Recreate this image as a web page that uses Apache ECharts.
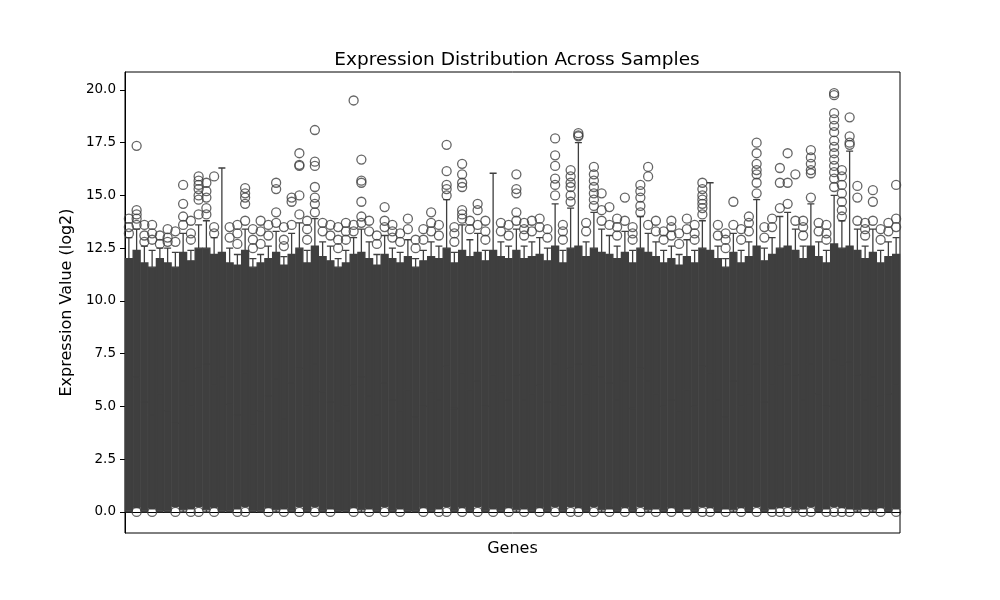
<!DOCTYPE html>
<html>
<head>
<meta charset="utf-8">
<script src="https://cdn.jsdelivr.net/npm/echarts@6/dist/echarts.min.js"></script>
<style>
  html, body { margin: 0; padding: 0; background: #fff; }
  #chart { width: 1000px; height: 600px; }
</style>
</head>
<body>
<div id="chart"></div>
<script>
// whisker low / q1 / median / q3 / whisker high, one entry per gene
var lo = [0, 0.2, 0, 0.15, 0, 0, 0.25, 0, 0.15, 0.25,
    0, 0.2, 0, 0, 0.15, 0.25, 0, 0, 0.2, 0,
    0.15, 0, 0.25, 0, 0.25, 0, 0.15, 0, 0, 0.2,
    0, 0.15, 0, 0.25, 0, 0.15, 0, 0, 0.2, 0,
    0.15, 0.25, 0, 0.2, 0, 0.25, 0, 0.15, 0, 0.2,
    0, 0.15, 0, 0.2, 0, 0.25, 0, 0.25, 0.2, 0,
    0.25, 0, 0.15, 0, 0.2, 0, 0.25, 0, 0.15, 0,
    0.2, 0, 0.15, 0, 0.25, 0.2, 0, 0.15, 0, 0.2,
    0, 0.25, 0, 0.15, 0.2, 0.25, 0, 0.15, 0.25, 0,
    0.15, 0.25, 0.2, 0.15, 0, 0.15, 0, 0.2, 0, 0.15]
var q1 = [0.05, 0.25, 0.05, 0.2, 0.05, 0.05, 0.3, 0.1, 0.2, 0.3,
    0.1, 0.25, 0.05, 0.05, 0.2, 0.3, 0.05, 0.05, 0.25, 0.1,
    0.2, 0.05, 0.3, 0.05, 0.3, 0.05, 0.2, 0.05, 0.05, 0.25,
    0.1, 0.2, 0.05, 0.3, 0.05, 0.2, 0.05, 0.05, 0.25, 0.05,
    0.2, 0.3, 0.05, 0.25, 0.05, 0.3, 0.05, 0.2, 0.05, 0.25,
    0.1, 0.2, 0.05, 0.25, 0.05, 0.3, 0.05, 0.3, 0.25, 0.05,
    0.3, 0.1, 0.2, 0.05, 0.25, 0.05, 0.3, 0.1, 0.2, 0.05,
    0.25, 0.05, 0.2, 0.05, 0.3, 0.25, 0.05, 0.2, 0.1, 0.25,
    0.05, 0.3, 0.05, 0.2, 0.25, 0.3, 0.1, 0.2, 0.3, 0.05,
    0.2, 0.3, 0.25, 0.2, 0.1, 0.2, 0.1, 0.25, 0.05, 0.2]
var med = [5.8, 6.4, 5.2, 4.6, 5.6, 4.8, 4.2, 6.2, 5.0, 6.8,
    7.0, 6.0, 6.4, 5.1, 4.6, 6.6, 4.1, 4.8, 5.5, 6.3,
    4.4, 6.1, 6.8, 5.0, 7.0, 5.7, 5.2, 4.3, 5.0, 6.0,
    6.4, 5.5, 4.6, 6.1, 5.3, 4.8, 5.8, 4.5, 5.0, 5.7,
    5.3, 6.9, 4.9, 6.6, 5.8, 6.2, 5.0, 6.5, 5.7, 5.3,
    6.5, 5.3, 5.6, 6.0, 5.2, 7.0, 5.0, 6.8, 7.0, 5.6,
    6.9, 6.4, 6.1, 5.3, 6.2, 4.9, 6.8, 6.2, 5.6, 5.0,
    5.3, 4.8, 5.8, 5.0, 6.9, 6.6, 5.3, 4.5, 6.2, 5.0,
    5.6, 7.0, 5.2, 6.0, 6.9, 7.0, 6.5, 5.3, 7.0, 5.6,
    5.0, 7.2, 6.9, 7.1, 6.5, 5.3, 6.4, 5.0, 5.6, 6.0]
var q3 = [12.0, 12.4, 11.8, 11.6, 12.0, 11.8, 11.6, 12.3, 11.9, 12.5,
    12.5, 12.2, 12.3, 11.8, 11.7, 12.4, 11.6, 11.8, 12.0, 12.3,
    11.7, 12.2, 12.5, 11.8, 12.6, 12.1, 11.9, 11.6, 11.8, 12.2,
    12.3, 12.0, 11.7, 12.2, 12.0, 11.8, 12.1, 11.6, 11.9, 12.1,
    12.0, 12.5, 11.8, 12.4, 12.1, 12.3, 11.9, 12.4, 12.1, 12.0,
    12.4, 12.0, 12.1, 12.2, 11.9, 12.6, 11.8, 12.5, 12.6, 12.1,
    12.5, 12.3, 12.2, 12.0, 12.3, 11.8, 12.5, 12.3, 12.1, 11.8,
    12.0, 11.7, 12.1, 11.8, 12.5, 12.4, 12.0, 11.6, 12.3, 11.8,
    12.1, 12.6, 11.9, 12.2, 12.5, 12.6, 12.4, 12.0, 12.6, 12.1,
    11.8, 12.7, 12.5, 12.6, 12.4, 12.0, 12.3, 11.8, 12.1, 12.2]
var hi = [13.0, 13.4, 12.6, 12.4, 12.5, 12.5, 12.3, 13.2, 12.4, 13.6,
    13.8, 13.0, 16.3, 12.5, 12.2, 13.4, 12.0, 12.2, 12.6, 13.3,
    12.1, 13.2, 13.7, 12.4, 13.9, 12.8, 12.6, 12.0, 12.4, 13.0,
    13.4, 12.8, 12.2, 13.1, 12.5, 12.3, 12.9, 12.0, 12.4, 12.8,
    12.6, 14.8, 12.3, 13.6, 12.9, 13.2, 12.4, 16.05, 12.8, 12.6,
    13.4, 12.6, 12.8, 13.0, 12.5, 14.6, 12.4, 14.4, 17.5, 12.8,
    14.2, 13.4, 13.1, 12.6, 13.3, 12.4, 14.0, 13.2, 12.8, 12.4,
    12.6, 12.2, 12.9, 12.4, 13.8, 15.6, 12.6, 12.0, 13.2, 12.4,
    12.8, 14.8, 12.5, 13.0, 14.0, 14.2, 13.4, 12.6, 14.6, 12.8,
    12.4, 15.0, 13.8, 17.1, 13.4, 12.6, 13.4, 12.4, 12.8, 13.0]

// outliers: [gene index, value]
var highOutliers = [
    [1, 17.35], [1, 14.3], [1, 14.1], [1, 13.9],
    [7, 15.5], [7, 14.6],
    [9, 15.9], [9, 15.7], [9, 15.5], [9, 15.3], [9, 15.0], [9, 14.8],
    [10, 15.6], [10, 15.2], [10, 14.9], [10, 14.4],
    [11, 15.9],
    [15, 15.35], [15, 15.1], [15, 14.9], [15, 14.6],
    [19, 15.6], [19, 15.3], [19, 14.2],
    [21, 14.9], [21, 14.7],
    [22, 17.0], [22, 16.45], [22, 16.4], [22, 15.0],
    [24, 18.1], [24, 16.6], [24, 16.4], [24, 15.4], [24, 14.9], [24, 14.6],
    [29, 19.5], [29, 13.6],
    [30, 16.7], [30, 15.7], [30, 15.6], [30, 14.7], [30, 14.0],
    [33, 14.45], [33, 13.8],
    [41, 17.4], [41, 16.15], [41, 15.5], [41, 15.3],
    [43, 16.5], [43, 16.0], [43, 15.6], [43, 15.4], [43, 14.3], [43, 14.1],
    [45, 14.6], [45, 14.3],
    [50, 16.0], [50, 15.3], [50, 15.1], [50, 14.2],
    [55, 17.7], [55, 16.9], [55, 16.4], [55, 15.8], [55, 15.5],
    [57, 16.2], [57, 15.9], [57, 15.6], [57, 15.4], [57, 15.0],
    [58, 17.95], [58, 17.85], [58, 17.8],
    [60, 16.35], [60, 16.0], [60, 15.7], [60, 15.4], [60, 15.1], [60, 14.8],
    [61, 15.1], [61, 14.3],
    [62, 14.45],
    [64, 14.9],
    [66, 15.5], [66, 15.2], [66, 14.9], [66, 14.5],
    [67, 16.35], [67, 15.9],
    [74, 15.6], [74, 15.3], [74, 15.0], [74, 14.8], [74, 14.6], [74, 14.4],
    [78, 14.7],
    [81, 17.5], [81, 17.0], [81, 16.5], [81, 16.2], [81, 16.0], [81, 15.6],
    [84, 16.3], [84, 15.6],
    [85, 17.0], [85, 15.6],
    [86, 16.0],
    [88, 17.15], [88, 16.8], [88, 16.5], [88, 16.2], [88, 16.05],
    [91, 19.85], [91, 19.75], [91, 18.9], [91, 18.6], [91, 18.3], [91, 18.0], [91, 17.6],
    [91, 17.3], [91, 17.0], [91, 16.7], [91, 16.4], [91, 16.1], [91, 15.8],
    [92, 16.2], [92, 15.9], [92, 15.5], [92, 15.1], [92, 14.7], [92, 14.3],
    [93, 18.7], [93, 17.8], [93, 17.5], [93, 17.4],
    [94, 15.45], [94, 14.9],
    [96, 15.25], [96, 14.7],
    [99, 15.5]
]
var fringeOutliers = [
    [0, 13.2], [0, 13.5], [0, 13.9], [1, 13.6], [2, 12.8], [2, 13.1], [2, 13.6], [3, 12.9],
    [3, 13.2], [3, 13.6], [4, 12.7], [4, 13.1], [5, 12.8], [5, 13.0], [5, 13.4], [6, 12.8],
    [6, 13.3], [7, 13.6], [7, 14.0], [8, 12.9], [8, 13.2], [8, 13.8], [9, 14.1], [10, 14.1],
    [11, 13.2], [11, 13.5], [13, 13.0], [13, 13.5], [14, 12.7], [14, 13.2], [14, 13.6],
    [15, 13.8], [16, 12.5], [16, 12.9], [16, 13.4], [17, 12.7], [17, 13.3], [17, 13.8],
    [18, 13.1], [18, 13.6], [19, 13.7], [20, 12.6], [20, 12.9], [20, 13.5], [21, 13.6],
    [22, 14.1], [23, 12.9], [23, 13.4], [23, 13.8], [24, 14.2], [25, 13.3], [25, 13.7],
    [26, 13.1], [26, 13.6], [27, 12.5], [27, 12.9], [27, 13.5], [28, 12.9], [28, 13.3],
    [28, 13.7], [29, 13.3], [30, 13.7], [31, 13.3], [31, 13.8], [32, 12.7], [32, 13.1],
    [33, 13.5], [34, 13.0], [34, 13.3], [34, 13.6], [35, 12.8], [35, 13.2], [36, 13.4],
    [36, 13.9], [37, 12.5], [37, 12.9], [38, 12.9], [38, 13.4], [39, 13.3], [39, 13.7],
    [39, 14.2], [40, 13.1], [40, 13.6], [41, 15.0], [42, 12.8], [42, 13.2], [42, 13.5],
    [43, 13.9], [44, 13.4], [44, 13.8], [45, 13.6], [46, 12.9], [46, 13.3], [46, 13.8],
    [48, 13.3], [48, 13.7], [49, 13.1], [49, 13.6], [50, 13.8], [51, 13.1], [51, 13.4],
    [51, 13.7], [52, 13.3], [52, 13.8], [53, 13.5], [53, 13.9], [54, 13.0], [54, 13.4],
    [55, 15.0], [56, 12.9], [56, 13.3], [56, 13.6], [57, 14.7], [59, 13.3], [59, 13.7],
    [60, 14.5], [61, 13.8], [62, 13.6], [63, 13.1], [63, 13.5], [63, 13.9], [64, 13.8],
    [65, 12.9], [65, 13.2], [65, 13.5], [66, 14.2], [67, 13.6], [68, 13.3], [68, 13.8],
    [69, 12.9], [69, 13.3], [70, 13.1], [70, 13.5], [70, 13.8], [71, 12.7], [71, 13.2],
    [72, 13.4], [72, 13.9], [73, 12.9], [73, 13.2], [73, 13.6], [74, 14.1], [76, 13.1],
    [76, 13.6], [77, 12.5], [77, 12.9], [77, 13.2], [78, 13.6], [79, 12.9], [79, 13.4],
    [80, 13.3], [80, 13.7], [80, 14.0], [81, 15.1], [82, 13.0], [82, 13.5], [83, 13.5],
    [83, 13.9], [84, 14.4], [85, 14.6], [86, 13.8], [87, 13.1], [87, 13.5], [87, 13.8],
    [88, 14.9], [89, 13.3], [89, 13.7], [90, 12.9], [90, 13.2], [90, 13.6], [91, 15.4],
    [92, 14.0], [94, 13.8], [95, 13.1], [95, 13.4], [95, 13.7], [96, 13.8], [97, 12.9],
    [97, 13.4], [98, 13.3], [98, 13.7], [99, 13.5], [99, 13.9]
]
var zeroOutliers = [
    [1, 0], [3, 0], [6, 0], [8, 0], [9, 0], [11, 0], [14, 0], [15, 0], [18, 0], [20, 0],
    [22, 0], [24, 0], [26, 0], [29, 0], [31, 0], [33, 0], [35, 0], [38, 0], [40, 0], [41, 0],
    [43, 0], [45, 0], [47, 0], [49, 0], [51, 0], [53, 0], [55, 0], [57, 0], [58, 0], [60, 0],
    [62, 0], [64, 0], [66, 0], [68, 0], [70, 0], [72, 0], [74, 0], [75, 0], [77, 0], [79, 0],
    [81, 0], [83, 0], [84, 0], [85, 0], [87, 0], [88, 0], [90, 0], [91, 0], [92, 0], [93, 0],
    [95, 0], [97, 0], [99, 0]
]
var yTicks = [0, 2.5, 5, 7.5, 10, 12.5, 15, 17.5, 20]

var genes = lo.map(function (v, i) { return 'Gene' + (i + 1) })
var boxData = lo.map(function (v, i) { return [lo[i], q1[i], med[i], q3[i], hi[i]] })

var ink = '#3f3f3f'
var font = 'DejaVu Sans'

var dom = echarts.init(document.getElementById('chart'))
var option = {
    animation: false,
    backgroundColor: '#fff',
    title: {
        text: 'Expression Distribution Across Samples',
        left: 512,
        textAlign: 'center',
        top: 46,
        textStyle: { fontFamily: font, fontSize: 18.5, fontWeight: 'normal', color: '#000' }
    },
    grid: {
        left: 125, right: 100, top: 72, bottom: 67,
        show: true, borderColor: '#000', borderWidth: 1, backgroundColor: 'transparent'
    },
    xAxis: {
        type: 'category',
        data: genes,
        boundaryGap: true,
        name: 'Genes',
        nameLocation: 'middle',
        nameGap: 8,
        nameTextStyle: { fontFamily: font, fontSize: 16, color: '#000' },
        axisLine: { lineStyle: { color: '#000', width: 1 } },
        axisTick: { show: false },
        axisLabel: { show: false },
        splitLine: { show: false }
    },
    yAxis: {
        type: 'value',
        min: -1.0,
        max: 20.85,
        name: 'Expression Value (log2)',
        nameLocation: 'middle',
        nameGap: 48,
        nameTextStyle: { fontFamily: font, fontSize: 16, color: '#000' },
        axisLine: { show: true, lineStyle: { color: '#000', width: 1 } },
        axisTick: { show: true, length: 5, customValues: yTicks, lineStyle: { color: '#000' } },
        axisLabel: {
            customValues: yTicks,
            margin: 9,
            fontFamily: font,
            fontSize: 13.5,
            color: '#000',
            formatter: function (v) { return v.toFixed(1) }
        },
        splitLine: { show: false }
    },
    series: [{
        type: 'boxplot',
        data: boxData,
        boxWidth: [7, 7],
        itemStyle: { color: ink, borderColor: ink, borderWidth: 1.3 },
        emphasis: { disabled: true }
    }, {
        type: 'scatter',
        data: highOutliers.concat(fringeOutliers, zeroOutliers),
        symbol: 'circle',
        symbolSize: 9,
        itemStyle: { color: 'rgba(0,0,0,0)', borderColor: ink, borderWidth: 1.3 },
        emphasis: { disabled: true },
        z: 3
    }]
}
dom.setOption(option)
</script>
</body>
</html>
